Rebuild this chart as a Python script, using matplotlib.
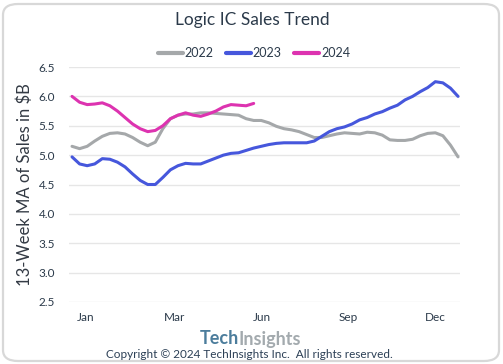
import matplotlib
matplotlib.use("Agg")
import matplotlib.pyplot as plt
from matplotlib.patches import FancyBboxPatch
import numpy as np

weeks_2022 = list(range(1, 53))
sales_2022 = [5.15, 5.11, 5.15, 5.24, 5.32, 5.37, 5.38, 5.36, 5.30, 5.22,
              5.16, 5.22, 5.45, 5.62, 5.68, 5.70, 5.70, 5.72, 5.72, 5.71,
              5.70, 5.69, 5.68, 5.62, 5.59, 5.59, 5.55, 5.49, 5.45, 5.43,
              5.40, 5.35, 5.30, 5.30, 5.33, 5.36, 5.38, 5.37, 5.36, 5.39,
              5.38, 5.34, 5.26, 5.25, 5.25, 5.27, 5.33, 5.37, 5.38, 5.33,
              5.17, 4.97]
weeks_2023 = list(range(1, 53))
sales_2023 = [4.97, 4.85, 4.82, 4.85, 4.94, 4.93, 4.88, 4.80, 4.68, 4.57,
              4.50, 4.50, 4.62, 4.75, 4.82, 4.86, 4.85, 4.85, 4.90, 4.95,
              5.00, 5.03, 5.04, 5.08, 5.12, 5.15, 5.18, 5.20, 5.21, 5.21,
              5.21, 5.21, 5.24, 5.32, 5.40, 5.45, 5.48, 5.53, 5.60, 5.64,
              5.70, 5.74, 5.80, 5.85, 5.94, 6.00, 6.08, 6.15, 6.25, 6.23,
              6.14, 6.00]
weeks_2024 = list(range(1, 26))
sales_2024 = [6.00, 5.90, 5.86, 5.87, 5.89, 5.84, 5.75, 5.64, 5.53, 5.45,
              5.40, 5.42, 5.50, 5.62, 5.68, 5.72, 5.68, 5.66, 5.70, 5.75,
              5.82, 5.86, 5.85, 5.84, 5.88]

month_labels = ["Jan", "Mar", "Jun", "Sep", "Dec"]
month_pos = [2.85, 14.5, 26.1, 37.5, 49.0]
y_ticks = [2.5, 3.0, 3.5, 4.0, 4.5, 5.0, 5.5, 6.0, 6.5]

FONT = ["Lato", "DejaVu Sans"]
plt.rcParams["font.family"] = FONT

W, H = 503, 364
fig = plt.figure(figsize=(W / 100, H / 100), dpi=100)
fig.patch.set_facecolor("white")

# rounded border
border = FancyBboxPatch((3 / W, 3 / H), 1 - 7 / W, 1 - 7 / H,
                        boxstyle="round,pad=0,rounding_size=0.03",
                        transform=fig.transFigure, facecolor="none",
                        edgecolor="#d8d8d8", linewidth=1.6, zorder=-5)
fig.patches.append(border)

ax = fig.add_axes([69 / W, 1 - 302 / H, (460 - 69) / W, (302 - 67) / H])
ax.set_facecolor("none")
ax.set_zorder(2)

c22, c23, c24 = "#a5a8aa", "#4657dc", "#dd33b0"
ax.plot(weeks_2022, sales_2022, color=c22, lw=2.2, solid_capstyle="round", label="2022")
ax.plot(weeks_2023, sales_2023, color=c23, lw=2.2, solid_capstyle="round", label="2023")
ax.plot(weeks_2024, sales_2024, color=c24, lw=2.2, solid_capstyle="round", label="2024")

ax.set_ylim(2.5, 6.5)
ax.set_xlim(0.6, 52.26)
ax.set_yticks(y_ticks)
ax.set_yticklabels([f"{v:.1f}" for v in y_ticks])
ax.set_xticks(month_pos)
ax.set_xticklabels(month_labels)
ax.tick_params(axis="both", length=0, labelsize=8.5, colors="#2b3a4a")
ax.tick_params(axis="y", pad=10)
ax.tick_params(axis="x", pad=7)
ax.grid(axis="y", color="#e6e6e6", lw=1.0)
ax.grid(axis="x", visible=False)
for s in ax.spines.values():
    s.set_visible(False)

ax.set_ylabel("13-Week MA of Sales in $B", fontsize=12, color="#333a44", labelpad=4)

fig.text(252 / W, 1 - 20 / H, "Logic IC Sales Trend", ha="center", va="center",
         fontsize=12.5, color="#2b3a4a")

leg = fig.legend(loc="center", bbox_to_anchor=(254 / W, 1 - 53 / H), ncol=3,
                 frameon=False, fontsize=9, handlelength=2.0, handletextpad=0.15,
                 columnspacing=1.0, labelcolor="#2b3a4a")
for ln in leg.get_lines():
    ln.set_linewidth(3)
    ln.set_solid_capstyle("round")

# footer
fig.text(239 / W, 1 - 339 / H, "Tech", ha="right", va="center", fontsize=13,
         fontweight="bold", color="#4c7d9c")
fig.text(239 / W, 1 - 339 / H, "Insights", ha="left", va="center", fontsize=13,
         fontweight="bold", color="#a3aaae")
fig.text(249 / W, 1 - 354 / H, "Copyright \u00a9 2024 TechInsights Inc.  All rights reserved.",
         ha="center", va="center", fontsize=8.5, color="#2b3f55")

fig.savefig("out.png", dpi=100, facecolor="white")
